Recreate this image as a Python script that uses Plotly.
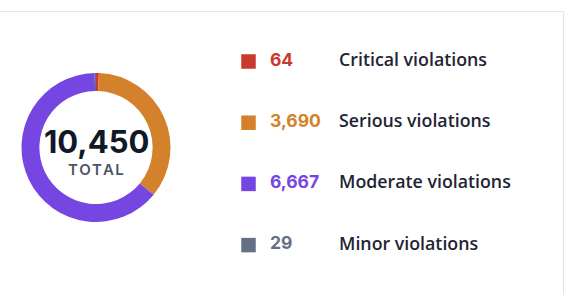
import plotly.graph_objects as go

categories = ["Critical violations", "Serious violations", "Moderate violations", "Minor violations"]
counts = [64, 3690, 6667, 29]
colors = ["#c93a2c", "#d3812b", "#7646e2", "#667085"]
total_label = "TOTAL"

W, H = 565, 295
total = sum(counts)

fig = go.Figure()

# donut
cx, cy, r = 96, 147.5, 74.5
fig.add_trace(go.Pie(
    values=counts, labels=categories, sort=False, direction="clockwise", rotation=0,
    hole=0.76, marker=dict(colors=colors, line=dict(width=0)),
    textinfo="none", hoverinfo="label+value", showlegend=False,
    domain=dict(x=[(cx - r) / W, (cx + r) / W], y=[(H - cy - r) / H, (H - cy + r) / H]),
))

# legend rows on a pixel-like axis
rows = list(range(len(categories)))
num_text = [f"{v:,}" for v in counts]
fig.add_trace(go.Scatter(
    x=[248.5] * len(rows), y=rows, mode="markers",
    marker=dict(symbol="square", size=14.5, color=colors, line=dict(width=0)),
    hoverinfo="skip", showlegend=False,
))
fig.add_trace(go.Scatter(
    x=[270] * len(rows), y=rows, mode="text", text=num_text, textposition="middle right",
    textfont=dict(family="Inter", size=17.5, color=colors, weight=700),
    hoverinfo="skip", showlegend=False,
))
fig.add_trace(go.Scatter(
    x=[339] * len(rows), y=rows, mode="text", text=categories, textposition="middle right",
    textfont=dict(family="Open Sans", size=17.8, color="#1f2535", weight=600),
    hoverinfo="skip", showlegend=False,
))

top_px, step = 61.5, 61.2
y0 = -top_px / step
y1 = (H - top_px) / step

fig.update_layout(
    width=W, height=H, margin=dict(l=0, r=0, t=0, b=0),
    paper_bgcolor="white", plot_bgcolor="rgba(0,0,0,0)",
    xaxis=dict(range=[0, W], visible=False, fixedrange=True, domain=[0, 1]),
    yaxis=dict(range=[y1, y0], visible=False, fixedrange=True, domain=[0, 1]),
    shapes=[dict(type="rect", xref="paper", yref="paper", x0=-0.02, x1=(563.5) / W,
                 y0=-0.05, y1=(H - 11.5) / H, line=dict(color="#e4e6ea", width=1.2),
                 fillcolor="rgba(0,0,0,0)", layer="below")],
    annotations=[
        dict(x=cx / W, y=(H - 141) / H, xref="paper", yref="paper", text=f"{total:,}",
             showarrow=False, font=dict(family="Inter", size=31, color="#111827", weight=700),
             xanchor="center", yanchor="middle"),
        dict(x=cx / W, y=(H - 169) / H, xref="paper", yref="paper", text=" ".join(total_label).replace(" ", "\u200a"),
             showarrow=False, font=dict(family="Inter", size=15, color="#4b5563", weight=600),
             xanchor="center", yanchor="middle"),
    ],
)

fig.write_html("out.html")
